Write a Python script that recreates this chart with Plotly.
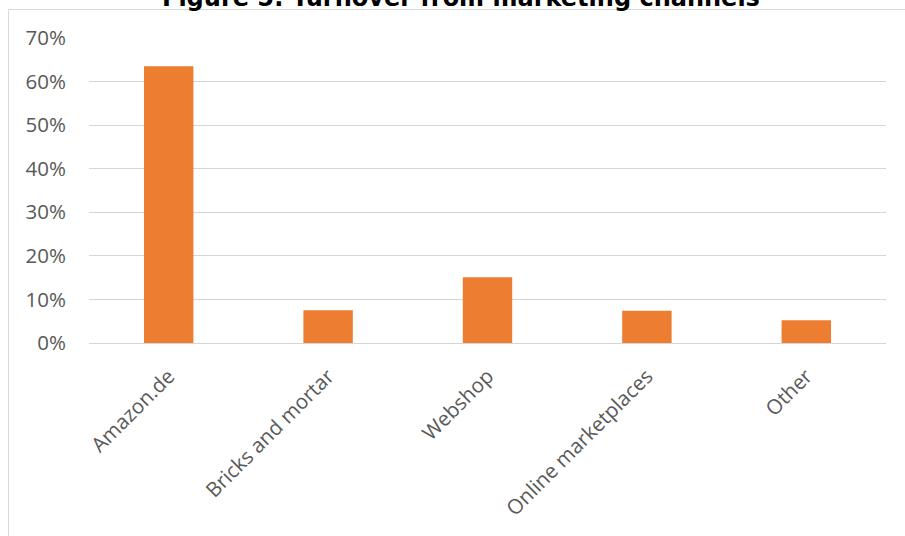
import plotly.graph_objects as go

categories = ["Amazon.de", "Bricks and mortar", "Webshop", "Online marketplaces", "Other"]
values = [0.635, 0.075, 0.151, 0.074, 0.052]
y_ticks = [0, 0.1, 0.2, 0.3, 0.4, 0.5, 0.6, 0.7]
title_text = "Figure 5: Turnover from marketing channels"

W, H = 905, 536
ml, mr, mt, mb = 89, 19, 38, 193
pw, ph = W - ml - mr, H - mt - mb

def px_x(p):
    return (p - ml) / pw

def px_y(p):
    return (H - mb - p) / ph

fig = go.Figure(go.Bar(x=categories, y=values, marker=dict(color="#ED7D31", line=dict(width=0)),
                       hoverinfo="skip"))

fig.update_layout(
    width=W, height=H,
    margin=dict(l=ml, r=mr, t=mt, b=mb, autoexpand=False),
    paper_bgcolor="white", plot_bgcolor="white",
    bargap=0.69,
    showlegend=False,
    font=dict(family="Open Sans, Noto Sans, sans-serif", color="#595959", size=20.5),
)
fig.update_yaxes(range=[0, 0.70], tickvals=y_ticks, tickformat=".0%", showgrid=True,
                 gridcolor="#d6d6d6", gridwidth=1.3, zeroline=False, showline=False,
                 ticks="", ticklabelstandoff=22, tickfont=dict(size=20.5, color="#595959"))
fig.update_xaxes(showgrid=False, showline=True, linecolor="#d6d6d6", linewidth=1.3,
                 tickangle=-45, ticks="", ticklabelstandoff=12, tickfont=dict(size=20.5, color="#595959"))

fig.add_annotation(text="<b>" + title_text + "</b>", xref="paper", yref="paper",
                   x=px_x(461), y=1, yshift=24, xanchor="center", yanchor="bottom",
                   showarrow=False, font=dict(family="DejaVu Sans, Verdana, sans-serif", size=24, color="black"))

x0, y0 = px_x(8.5), px_y(9.5)
x1, yb = px_x(910), px_y(545)
fig.add_shape(type="path", xref="paper", yref="paper",
              path=f"M {x0} {yb} L {x0} {y0} L {x1} {y0}",
              line=dict(color="#d9d9d9", width=1))

fig.write_html("out.html")
